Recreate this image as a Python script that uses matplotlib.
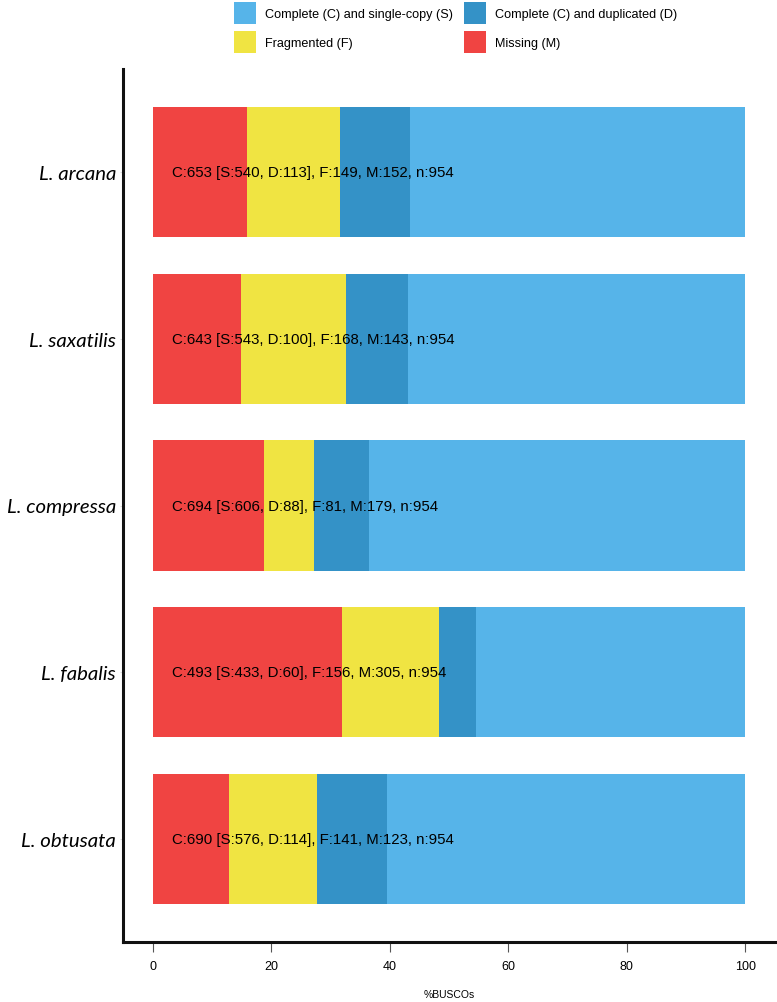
import matplotlib
matplotlib.use("Agg")
import matplotlib.pyplot as plt
import numpy as np
from matplotlib.patches import Patch

species = ["L. arcana", "L. saxatilis", "L. compressa", "L. fabalis", "L. obtusata"]
single = [540, 543, 606, 433, 576]
duplicated = [113, 100, 88, 60, 114]
fragmented = [149, 168, 81, 156, 141]
missing = [152, 143, 179, 305, 123]
total = 954

colors = {"S": "#56B4E9", "D": "#3492C7", "F": "#F0E442", "M": "#F04442"}
legend_labels = ["Complete (C) and single-copy (S)", "Fragmented (F)",
                 "Complete (C) and duplicated (D)", "Missing (M)"]

fig = plt.figure(figsize=(7.77, 10.03), dpi=100)
ax = fig.add_axes([123/777, 60/1003, (775-123)/777, (943-70)/1003])

n = len(species)
ypos = np.arange(n)[::-1] + 1  # arcana at top
S = np.array(single) / total * 100
D = np.array(duplicated) / total * 100
F = np.array(fragmented) / total * 100
M = np.array(missing) / total * 100

h = 0.78
ax.barh(ypos, M, height=h, left=0, color=colors["M"], linewidth=0)
ax.barh(ypos, F, height=h, left=M, color=colors["F"], linewidth=0)
ax.barh(ypos, D, height=h, left=M + F, color=colors["D"], linewidth=0)
ax.barh(ypos, S, height=h, left=M + F + D, color=colors["S"], linewidth=0)

for i in range(n):
    c = single[i] + duplicated[i]
    txt = f"C:{c} [S:{single[i]}, D:{duplicated[i]}], F:{fragmented[i]}, M:{missing[i]}, n:{total}"
    ax.text(3.2, ypos[i], txt, ha="left", va="center", fontsize=10.8,
            family="Liberation Sans", color="black")

ax.set_xlim(-5, 105)
ax.set_ylim(0.382, n + 0.618)
ax.set_yticks(ypos)
ax.set_yticklabels(species, fontsize=14.7, family="Lato", style="italic")
ax.set_xticks([0, 20, 40, 60, 80, 100])
ax.set_xticklabels(["0", "20", "40", "60", "80", "100"], fontsize=9, family="Liberation Sans")
ax.tick_params(axis="x", length=7, width=0.8, color="#555555", pad=6)
ax.tick_params(axis="y", length=2, width=0.8, color="#dddddd", pad=3)
ax.set_xlabel("%BUSCOs", fontsize=7.5, family="Liberation Sans", labelpad=12)

for side in ["top", "right"]:
    ax.spines[side].set_visible(False)
ax.spines["left"].set_linewidth(2.2)
ax.spines["bottom"].set_linewidth(2.2)
ax.spines["left"].set_color("#111111")
ax.spines["bottom"].set_color("#111111")

handles = [Patch(facecolor=colors["S"]), Patch(facecolor=colors["F"]),
           Patch(facecolor=colors["D"]), Patch(facecolor=colors["M"])]
fig.legend(handles, legend_labels, ncol=2, loc="upper left",
           bbox_to_anchor=(234/777, 1 - 3/1003), frameon=False,
           prop={"family": "Liberation Sans", "size": 9.1},
           handlelength=1.746, handleheight=2.31, columnspacing=0.87,
           labelspacing=0.555, handletextpad=0.71, borderaxespad=0, borderpad=0)

fig.savefig("out.png", dpi=100)
